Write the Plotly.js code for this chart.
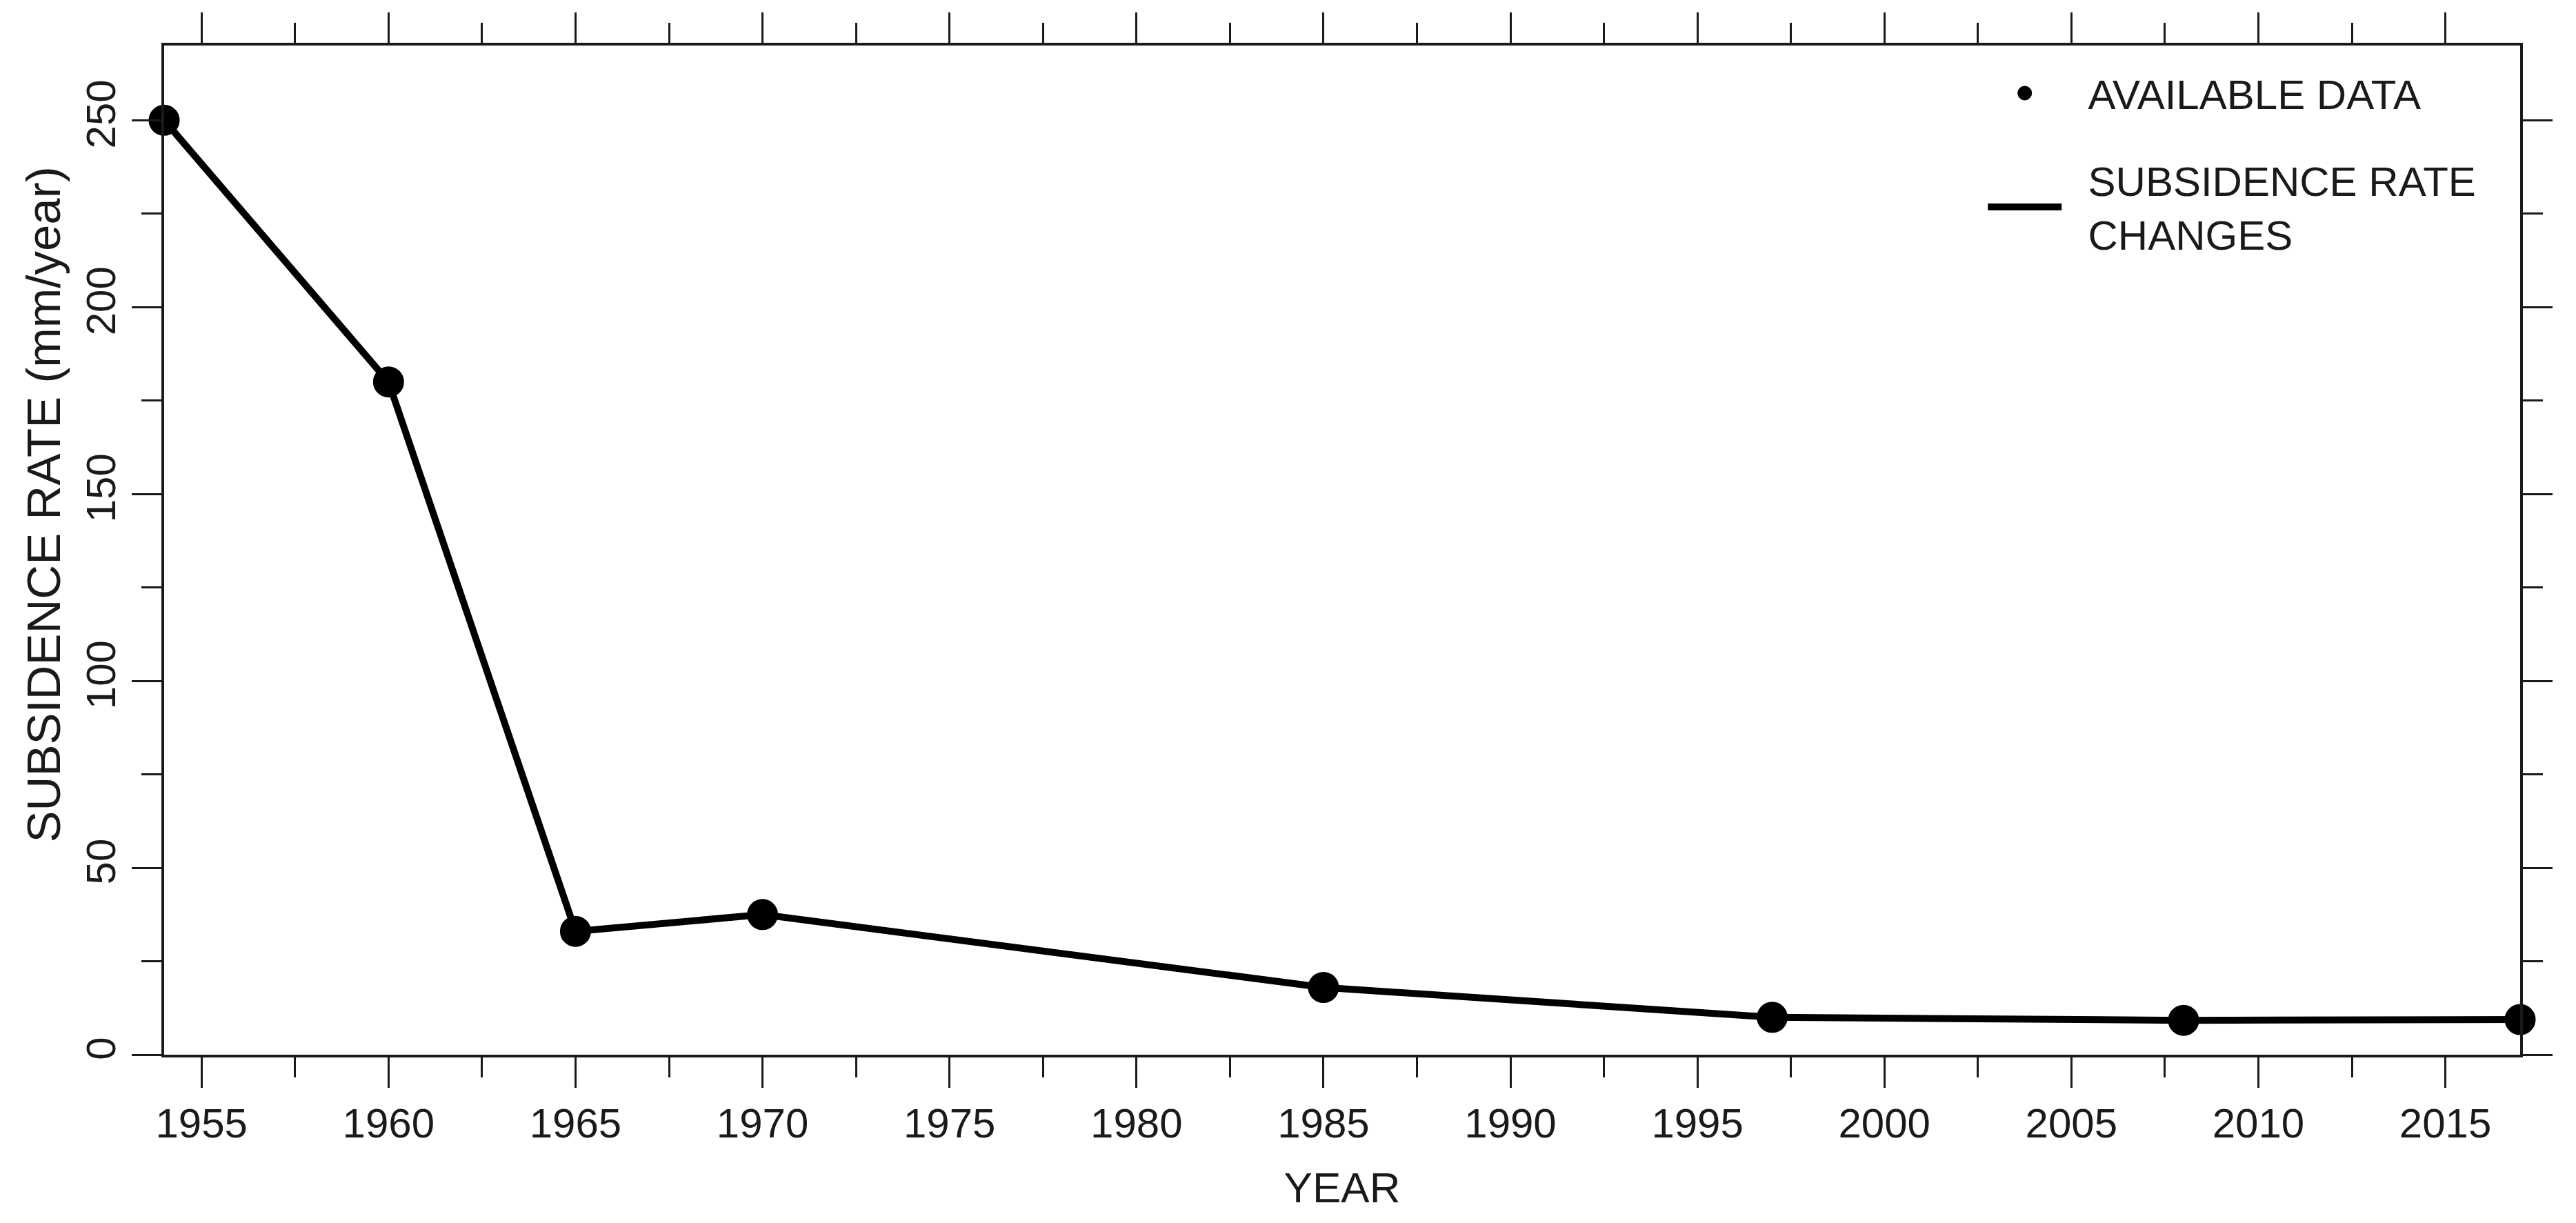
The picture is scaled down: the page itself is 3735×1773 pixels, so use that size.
<!DOCTYPE html>
<html>
<head>
<meta charset="utf-8">
<script src="https://cdn.plot.ly/plotly-3.0.1.min.js"></script>
<style>
  html, body { margin: 0; padding: 0; background: #ffffff; }
  #chart { width: 3735px; height: 1773px; }
</style>
</head>
<body>
<div id="chart"></div>
<script>
// ---- data ----
const years = [1954, 1960, 1965, 1970, 1985, 1997, 2008, 2017];
const subsidenceRate = [250, 180, 33, 37.5, 18, 10, 9.2, 9.4]; // mm/year

const xTickVals = [1955, 1960, 1965, 1970, 1975, 1980, 1985, 1990, 1995, 2000, 2005, 2010, 2015];
const xTickText = ["1955", "1960", "1965", "1970", "1975", "1980", "1985", "1990", "1995", "2000", "2005", "2010", "2015"];
const yTickVals = [0, 50, 100, 150, 200, 250];
const yTickText = ["0", "50", "100", "150", "200", "250"];

const legendMarkers = "\u00a0\u00a0AVAILABLE DATA";
const legendLine = "\u00a0\u00a0SUBSIDENCE RATE<br>\u00a0\u00a0CHANGES";
const xTitle = "YEAR";
const yTitle = "SUBSIDENCE RATE (mm/year)";

// ---- styling ----
const FONT = "'Liberation Sans', Arial, Helvetica, sans-serif";
const TXT = "#1a1a1a";
const INK = "#000000";

const traces = [
  {
    x: years, y: subsidenceRate,
    type: "scatter", mode: "lines",
    name: legendLine,
    legendgroup: "line",
    line: { color: INK, width: 10 },
    cliponaxis: false,
    legendrank: 2,
    hoverinfo: "x+y"
  },
  {
    x: years, y: subsidenceRate,
    type: "scatter", mode: "markers",
    name: legendMarkers,
    legendgroup: "markers",
    marker: { color: INK, size: 40, line: { width: 5, color: INK } },
    cliponaxis: false,
    legendrank: 1,
    hoverinfo: "x+y"
  }
];

const axisCommon = {
  showline: true, linecolor: TXT, linewidth: 4,
  mirror: "ticks",
  ticks: "outside", tickcolor: TXT, tickwidth: 3,
  showgrid: false, zeroline: false,
  tickfont: { family: FONT, size: 60, color: TXT },
  automargin: false
};

const layout = {
  width: 3735, height: 1773,
  paper_bgcolor: "#ffffff", plot_bgcolor: "#ffffff",
  margin: { l: 238, r: 81, t: 66, b: 244 },
  font: { family: FONT, size: 60, color: TXT },
  showlegend: true,
  legend: {
    x: 0.7726, y: 0.984, xanchor: "left", yanchor: "top",
    bgcolor: "rgba(0,0,0,0)", borderwidth: 0,
    font: { family: FONT, size: 60, color: TXT },
    itemwidth: 107,
    tracegroupgap: 45
  },
  xaxis: Object.assign({}, axisCommon, {
    range: [1954, 2017],
    tickmode: "array", tickvals: xTickVals, ticktext: xTickText,
    ticklen: 44,
    minor: { tick0: 1955, dtick: 2.5, ticklen: 29, tickwidth: 3, tickcolor: TXT, ticks: "outside", showgrid: false },
    title: { text: xTitle, font: { family: FONT, size: 62, color: TXT }, standoff: 40 }
  }),
  yaxis: Object.assign({}, axisCommon, {
    range: [0, 270],
    tickmode: "array", tickvals: yTickVals, ticktext: yTickText,
    ticklen: 43, tickangle: -90,
    minor: { tick0: 0, dtick: 25, ticklen: 29, tickwidth: 3, tickcolor: TXT, ticks: "outside", showgrid: false }
  }),
  annotations: [
    {
      text: yTitle, textangle: -90,
      xref: "paper", yref: "paper",
      x: -0.051, y: 0.545, xanchor: "center", yanchor: "middle",
      showarrow: false,
      font: { family: FONT, size: 69, color: TXT }
    }
  ]
};

Plotly.newPlot("chart", traces, layout, { staticPlot: true, displayModeBar: false });
</script>
</body>
</html>
